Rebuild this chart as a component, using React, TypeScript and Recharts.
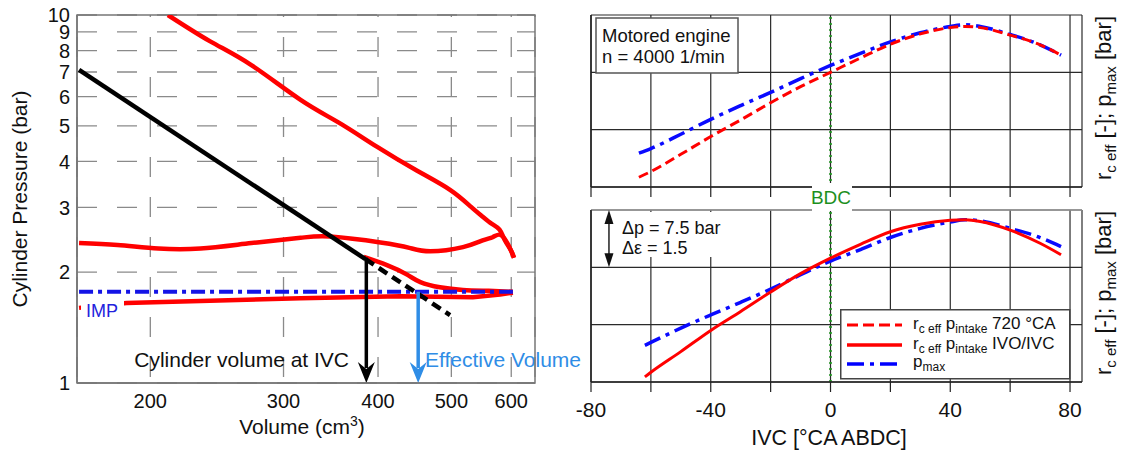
import React from 'react';
import {
  LineChart,
  Line,
  XAxis,
  YAxis,
  CartesianGrid,
  ReferenceLine,
  ReferenceArea,
  Legend,
} from 'recharts';

const FONT = '"Liberation Sans", Arial, Helvetica, sans-serif';

// ---------------- Left panel: log-log p-V diagram ----------------
const volumeTicks = [200, 300, 400, 500, 600];
const pressureTicks = [1, 2, 3, 4, 5, 6, 7, 8, 9, 10];

const expansionV = [211, 240, 272, 316, 355, 399, 450, 498, 530, 550, 565, 579, 588, 599, 605];
const expansionP = [10.0, 8.48, 7.31, 5.88, 5.1, 4.38, 3.78, 3.35, 3.02, 2.83, 2.71, 2.61, 2.45, 2.3, 2.19];

const exhaustV = [605, 599, 590, 579, 567, 550, 518, 469, 440, 403, 346, 316, 272, 233, 205, 181, 161];
const exhaustP = [2.19, 2.3, 2.44, 2.53, 2.49, 2.44, 2.34, 2.28, 2.33, 2.41, 2.5, 2.48, 2.4, 2.32, 2.32, 2.37, 2.4];

const intakeV = [161, 186, 233, 316, 428, 534, 580, 603];
const intakeP = [1.6, 1.65, 1.67, 1.7, 1.72, 1.71, 1.74, 1.76];

const compressionV = [603, 560, 518, 483, 455, 437, 411, 383];
const compressionP = [1.77, 1.78, 1.79, 1.82, 1.88, 1.97, 2.09, 2.2];

const polytropeSolidV = [161, 385];
const polytropeSolidP = [7.09, 2.17];
const polytropeDashedV = [385, 498];
const polytropeDashedP = [2.17, 1.53];

const impV = [161, 603];
const impP = [1.77, 1.77];

const ivcVolume = 386;
const ivcPressure = 2.19;
const effectiveVolume = 452;
const effectivePressure = 1.77;

const toPts = (v: number[], p: number[]) => v.map((V, i) => ({ V, p: p[i] }));

const expansionData = toPts(expansionV, expansionP);
const exhaustData = toPts(exhaustV, exhaustP);
const intakeData = toPts(intakeV, intakeP);
const compressionData = toPts(compressionV, compressionP);
const polySolidData = toPts(polytropeSolidV, polytropeSolidP);
const polyDashedData = toPts(polytropeDashedV, polytropeDashedP);
const impData = toPts(impV, impP);

// ---------------- Right panels ----------------
const ivcTicks = [-80, -60, -40, -20, 0, 20, 40, 60, 80];
const gridTicks = [0, 1, 2, 3];
const minorTicks = [0.5, 1.5, 2.5];

const ivcTop = [-64, -60, -50, -40, -30, -20, -10, 0, 10, 20, 30, 40, 45, 50, 60, 70, 77];
const rc720Top = [0.17, 0.27, 0.57, 0.88, 1.17, 1.47, 1.75, 2.0, 2.25, 2.49, 2.67, 2.78, 2.8, 2.78, 2.65, 2.48, 2.3];
const pmaxTop = [0.59, 0.67, 0.92, 1.18, 1.42, 1.65, 1.89, 2.12, 2.33, 2.53, 2.69, 2.8, 2.83, 2.8, 2.66, 2.48, 2.3];

const ivcBottom = [-62, -60, -50, -40, -30, -20, -10, 0, 10, 20, 30, 40, 45, 50, 60, 70, 77];
const rcIvoBottom = [0.09, 0.17, 0.53, 0.9, 1.23, 1.57, 1.89, 2.16, 2.4, 2.62, 2.75, 2.82, 2.83, 2.8, 2.65, 2.42, 2.22];
const pmaxBottom = [0.64, 0.69, 0.94, 1.17, 1.39, 1.62, 1.87, 2.11, 2.31, 2.52, 2.68, 2.79, 2.83, 2.81, 2.68, 2.52, 2.36];

const topRows = ivcTop.map((x, i) => ({ x, rc: rc720Top[i], pmax: pmaxTop[i] }));
const bottomRows = ivcBottom.map((x, i) => ({ x, rc: rcIvoBottom[i], pmax: pmaxBottom[i] }));

const legendLabels = [
  { main: 'r', sub: 'c eff', main2: ' p', sub2: 'intake', tail: ' 720 °CA' },
  { main: 'r', sub: 'c eff', main2: ' p', sub2: 'intake', tail: ' IVO/IVC' },
  { main: 'p', sub: 'max', main2: '', sub2: '', tail: '' },
];
const legendStyles = [
  { color: '#ff0000', width: 3, dash: '11 5', row: 16, base: 20 },
  { color: '#ff0000', width: 3.5, dash: undefined, row: 36, base: 40 },
  { color: '#0000ff', width: 3.5, dash: '17 6 4 6', row: 55, base: 58 },
];

const RED = '#ff0000';
const BLUE = '#0a0aff';
const LIGHTBLUE = '#2f8de6';
const GREEN = '#1d8f1d';
const blank = () => '';

function downArrow(color: string, width: number) {
  return (props: any) => {
    const { x1, y1, x2, y2 } = props;
    const headLen = 21;
    const half = 8.5;
    return (
      <g>
        <line x1={x1} y1={y1} x2={x2} y2={y2 - headLen + 6} stroke={color} strokeWidth={width} />
        <path
          d={`M ${x2} ${y2} L ${x2 - half} ${y2 - headLen} L ${x2} ${y2 - headLen + 7} L ${x2 + half} ${y2 - headLen} Z`}
          fill={color}
        />
      </g>
    );
  };
}

function doubleArrow(props: any) {
  const { x1, y1, x2, y2 } = props;
  const top = Math.min(y1, y2);
  const bot = Math.max(y1, y2);
  const hl = 14;
  const hw = 4.5;
  return (
    <g>
      <line x1={x1} y1={top + hl - 2} x2={x2} y2={bot - hl + 2} stroke="#111" strokeWidth={1.4} />
      <path d={`M ${x1} ${top} L ${x1 - hw} ${top + hl} L ${x1 + hw} ${top + hl} Z`} fill="#111" />
      <path d={`M ${x2} ${bot} L ${x2 - hw} ${bot - hl} L ${x2 + hw} ${bot - hl} Z`} fill="#111" />
    </g>
  );
}

function RightTitle({ cx, cy }: { cx: number; cy: number }) {
  return (
    <text x={cx} y={cy} transform={`rotate(-90 ${cx} ${cy})`} textAnchor="middle" fontSize={22} fill="#111">
      <tspan>r</tspan>
      <tspan fontSize={15} dy={5}>c eff</tspan>
      <tspan dy={-5}>{' [-]; p'}</tspan>
      <tspan fontSize={15} dy={5}>max</tspan>
      <tspan dy={-5}>{' [bar]'}</tspan>
    </text>
  );
}

function LegendBox() {
  return (
    <svg width={231} height={71} style={{ display: 'block', fontFamily: FONT }}>
      <rect x={0.75} y={0.75} width={229} height={69} fill="#fff" stroke="#444" strokeWidth={1.5} />
      {legendLabels.map((l, i) => {
        const s = legendStyles[i];
        return (
          <g key={i}>
            <line x1={7} x2={62} y1={s.row} y2={s.row} stroke={s.color} strokeWidth={s.width} strokeDasharray={s.dash} />
            <text x={73} y={s.base} fontSize={17} fill="#111">
              <tspan>{l.main}</tspan>
              <tspan fontSize={12} dy={4}>{l.sub}</tspan>
              {l.main2 ? <tspan dy={-4}>{l.main2}</tspan> : null}
              {l.sub2 ? <tspan fontSize={12} dy={4}>{l.sub2}</tspan> : null}
              {l.tail ? <tspan dy={-4}>{l.tail}</tspan> : null}
            </text>
          </g>
        );
      })}
    </svg>
  );
}

function LeftChart() {
  return (
    <LineChart width={600} height={453} margin={{ top: 15, right: 65, bottom: 0, left: 0 }}>
      <CartesianGrid vertical={false} stroke="#8a8a8a" strokeWidth={1.3} strokeDasharray="20 20" />
      <CartesianGrid horizontal={false} stroke="#8a8a8a" strokeWidth={1.3} strokeDasharray="20 20" strokeDashoffset={18} />
      <XAxis
        dataKey="V"
        type="number"
        scale="log"
        domain={[160, 645]}
        ticks={volumeTicks}
        interval={0}
        allowDataOverflow
        height={70}
        tickLine={false}
        tickSize={0}
        tickMargin={11}
        axisLine={{ stroke: '#777', strokeWidth: 1.5 }}
        tick={{ fontSize: 20, fill: '#111' }}
      />
      <YAxis
        type="number"
        scale="log"
        domain={[1, 10]}
        ticks={pressureTicks}
        interval={0}
        allowDataOverflow
        width={77}
        tickLine={false}
        tickSize={0}
        tickMargin={7}
        axisLine={{ stroke: '#777', strokeWidth: 1.5 }}
        tick={{ fontSize: 20, fill: '#111' }}
      />
      <ReferenceArea x1={160} x2={645} y1={1} y2={10} fill="none" stroke="#777" strokeWidth={1.5} ifOverflow="visible" />
      <Line data={expansionData} dataKey="p" type="natural" stroke={RED} strokeWidth={4.5} dot={false} activeDot={false} isAnimationActive={false} />
      <Line data={exhaustData} dataKey="p" type="natural" stroke={RED} strokeWidth={4.5} dot={false} activeDot={false} isAnimationActive={false} />
      <Line data={intakeData} dataKey="p" type="linear" stroke={RED} strokeWidth={4.5} dot={false} activeDot={false} isAnimationActive={false} />
      <Line data={compressionData} dataKey="p" type="natural" stroke={RED} strokeWidth={4.5} dot={false} activeDot={false} isAnimationActive={false} />
      <Line data={impData} dataKey="p" type="linear" stroke="#1414e6" strokeWidth={4} strokeDasharray="14 5 4 5" dot={false} activeDot={false} isAnimationActive={false} />
      <Line data={polySolidData} dataKey="p" type="linear" stroke="#000" strokeWidth={4.5} dot={false} activeDot={false} isAnimationActive={false} />
      <Line data={polyDashedData} dataKey="p" type="linear" stroke="#000" strokeWidth={4.5} strokeDasharray="10 6" dot={false} activeDot={false} isAnimationActive={false} />
      <ReferenceLine
        segment={[{ x: ivcVolume, y: ivcPressure }, { x: ivcVolume, y: 1 }]}
        ifOverflow="visible"
        shape={downArrow('#000', 3.5)}
      />
      <ReferenceLine
        segment={[{ x: effectiveVolume, y: effectivePressure }, { x: effectiveVolume, y: 1 }]}
        ifOverflow="visible"
        shape={downArrow(LIGHTBLUE, 3.5)}
      />
      <text x={349} y={367} fontSize={21} fill="#111" textAnchor="end">Cylinder volume at IVC</text>
      <text x={425} y={367} fontSize={21} fill={LIGHTBLUE}>Effective Volume</text>
      <text x={27} y={199} transform="rotate(-90 27 199)" fontSize={21} fill="#111" textAnchor="middle">
        Cylinder Pressure (bar)
      </text>
      <text x={302} y={434} fontSize={21} fill="#111" textAnchor="middle">
        <tspan>Volume (cm</tspan>
        <tspan fontSize={14} dy={-8}>3</tspan>
        <tspan dy={8}>)</tspan>
      </text>
    </LineChart>
  );
}

function TopRightChart() {
  return (
    <LineChart width={601} height={200} data={topRows} margin={{ top: 15, right: 39, bottom: 0, left: 0 }}>
      <CartesianGrid stroke="#2a2a2a" strokeWidth={1.2} />
      <XAxis
        dataKey="x"
        type="number"
        domain={[-80, 84]}
        ticks={ivcTicks}
        interval={0}
        allowDataOverflow
        height={13}
        tickFormatter={blank}
        tickSize={10}
        tickLine={{ stroke: '#222', strokeWidth: 1.2 }}
        axisLine={{ stroke: '#222', strokeWidth: 1.5 }}
      />
      <YAxis
        type="number"
        domain={[0, 3]}
        ticks={gridTicks}
        interval={0}
        allowDataOverflow
        width={71}
        tickFormatter={blank}
        tickLine={false}
        axisLine={{ stroke: '#222', strokeWidth: 1.5 }}
      />
      <YAxis
        yAxisId="minor"
        orientation="right"
        mirror
        width={0}
        type="number"
        domain={[0, 3]}
        ticks={minorTicks}
        interval={0}
        tick={false}
        tickSize={9}
        tickLine={{ stroke: '#333', strokeWidth: 1.2 }}
        axisLine={false}
      />
      <ReferenceLine x={0} stroke={GREEN} strokeWidth={2.5} strokeDasharray="2 4" />
      <Line dataKey="pmax" type="monotone" stroke={BLUE} strokeWidth={3.5} strokeDasharray="17 6 4 6" dot={false} activeDot={false} isAnimationActive={false} />
      <Line dataKey="rc" type="monotone" stroke={RED} strokeWidth={3} strokeDasharray="10 5" dot={false} activeDot={false} isAnimationActive={false} />
      <RightTitle cx={591} cy={98} />
    </LineChart>
  );
}

function BottomRightChart() {
  return (
    <LineChart width={601} height={273} data={bottomRows} margin={{ top: 30, right: 39, bottom: 0, left: 0 }}>
      <CartesianGrid stroke="#2a2a2a" strokeWidth={1.2} />
      <XAxis
        dataKey="x"
        type="number"
        domain={[-80, 84]}
        ticks={ivcTicks}
        interval={0}
        allowDataOverflow
        height={71}
        tickSize={10}
        tickMargin={10}
        tickFormatter={(v: number) => (v % 40 === 0 ? String(v) : '')}
        tick={{ fontSize: 21, fill: '#111' }}
        tickLine={{ stroke: '#222', strokeWidth: 1.2 }}
        axisLine={{ stroke: '#222', strokeWidth: 1.5 }}
      />
      <YAxis
        type="number"
        domain={[0, 3]}
        ticks={gridTicks}
        interval={0}
        allowDataOverflow
        width={71}
        tickFormatter={blank}
        tickLine={false}
        axisLine={{ stroke: '#222', strokeWidth: 1.5 }}
      />
      <YAxis
        yAxisId="minor"
        orientation="right"
        mirror
        width={0}
        type="number"
        domain={[0, 3]}
        ticks={minorTicks}
        interval={0}
        tick={false}
        tickSize={9}
        tickLine={{ stroke: '#333', strokeWidth: 1.2 }}
        axisLine={false}
      />
      <ReferenceLine y={3} stroke="#999" strokeWidth={1.5} ifOverflow="visible" />
      <ReferenceLine x={0} stroke={GREEN} strokeWidth={2.5} strokeDasharray="2 4" />
      <Line dataKey="pmax" type="monotone" stroke={BLUE} strokeWidth={3.5} strokeDasharray="17 6 4 6" dot={false} activeDot={false} isAnimationActive={false} />
      <Line dataKey="rc" type="monotone" stroke={RED} strokeWidth={3} dot={false} activeDot={false} isAnimationActive={false} />
      <ReferenceLine segment={[{ x: -74, y: 3 }, { x: -74, y: 2 }]} ifOverflow="visible" shape={doubleArrow} />
      <text x={309} y={265} fontSize={21.5} fill="#111" textAnchor="middle">IVC [°CA ABDC]</text>
      <RightTitle cx={591} cy={113} />
      <Legend
        layout="horizontal"
        verticalAlign="middle"
        align="center"
        wrapperStyle={{ position: 'absolute', left: 320, top: 129, width: 231, height: 71 }}
        content={() => <LegendBox />}
      />
    </LineChart>
  );
}

// Annotation layer drawn above all panels (text boxes with white backgrounds)
function Annotations() {
  return (
    <svg
      width={1121}
      height={453}
      style={{ position: 'absolute', left: 0, top: 0, pointerEvents: 'none', fontFamily: FONT }}
    >
      <rect x={81} y={297} width={43} height={22} fill="#fff" />
      <text x={86} y={317} fontSize={18} fill="#2222dd">IMP</text>

      <rect x={596} y={18} width={142} height={55} fill="#fff" stroke="#555" strokeWidth={1.5} />
      <text x={602} y={42} fontSize={18.5} fill="#111">Motored engine</text>
      <text x={602} y={63} fontSize={18.5} fill="#111">n = 4000 1/min</text>

      <rect x={616} y={212} width={114} height={45} fill="#fff" />
      <text x={622} y={233.5} fontSize={18} fill="#111">Δp = 7.5 bar</text>
      <text x={622} y={254} fontSize={18} fill="#111">Δε = 1.5</text>

      <rect x={812} y={183} width={40} height={28} fill="#fff" />
      <text x={831} y={204} fontSize={19} fill={GREEN} textAnchor="middle">BDC</text>
    </svg>
  );
}

export default function App() {
  return (
    <div
      style={{
        position: 'absolute',
        left: 0,
        top: 0,
        width: 1121,
        height: 453,
        background: '#fff',
        fontFamily: FONT,
        overflow: 'hidden',
      }}
    >
      <div style={{ position: 'absolute', left: 0, top: 0 }}>
        <LeftChart />
      </div>
      <div style={{ position: 'absolute', left: 520, top: 0 }}>
        <TopRightChart />
      </div>
      <div style={{ position: 'absolute', left: 520, top: 180 }}>
        <BottomRightChart />
      </div>
      <Annotations />
    </div>
  );
}
